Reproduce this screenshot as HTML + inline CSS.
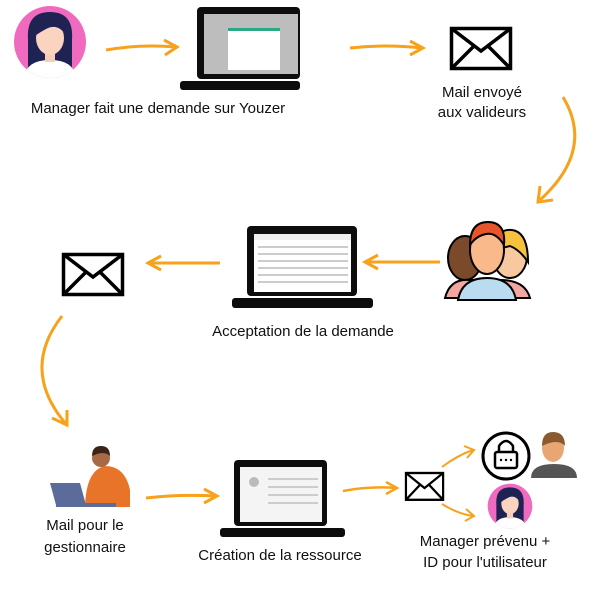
<!DOCTYPE html>
<html><head><meta charset="utf-8"><style>
body{margin:0;background:#fff}
svg text{font-family:"Liberation Sans",sans-serif;fill:#111;font-size:15px}
</style></head><body>
<svg width="600" height="600" viewBox="0 0 600 600" xmlns="http://www.w3.org/2000/svg">
<defs>
<g id="av">
<clipPath id="cc"><circle cx="0" cy="0" r="36"/></clipPath>
<circle r="36" fill="#f06bbf"/>
<g clip-path="url(#cc)">
<path d="M-22 -2 Q-24 -30 0 -30 Q24 -30 22 -2 L22 26 L-22 26Z" fill="#1f2353"/>
<path d="M-26 36 Q-24 18 0 18 Q24 18 26 36Z" fill="#fff"/>
<rect x="-5" y="8" width="10" height="12" fill="#f7cdb7"/>
<ellipse cx="0" cy="-4" rx="14" ry="17" fill="#fad4c0"/>
<path d="M-15 -6 Q-12 -24 2 -22 Q12 -20 15 -8 Q8 -18 -2 -14 Q-10 -10 -15 -6Z" fill="#1f2353"/>
</g>
</g>
<g id="env">
<rect x="1.5" y="1.5" width="59" height="40" fill="#fff" stroke="#000" stroke-width="3.5"/>
<path d="M1.5 1.5 L31 24 L60.5 1.5 M1.5 41.5 L24 19 M60.5 41.5 L38 19" fill="none" stroke="#000" stroke-width="3.5"/>
</g>
</defs>

<!-- row 1 -->
<g transform="translate(50,42)"><use href="#av"/></g>
<g>
<rect x="197" y="7" width="103" height="72" rx="4" fill="#0d0d0d"/>
<rect x="204" y="14" width="94" height="60" fill="#bdbdbd"/>
<rect x="228" y="28" width="52" height="42" fill="#fff"/>
<rect x="228" y="28" width="52" height="3" fill="#2aa884"/>
<rect x="180" y="81" width="120" height="9" rx="3" fill="#0d0d0d"/>
</g>
<path d="M106 50 Q140 44 176 47" stroke="#f7a21b" stroke-width="3" fill="none"/>
<path d="M164 40 L177 47 L165 55" stroke="#f7a21b" stroke-width="3" fill="none"/>
<path d="M350 48 Q385 44 422 48" stroke="#f7a21b" stroke-width="3" fill="none"/>
<path d="M410 41 L423 48 L410 55" stroke="#f7a21b" stroke-width="3" fill="none"/>
<g transform="translate(450,27)"><use href="#env"/></g>
<text x="158" y="113" text-anchor="middle">Manager fait une demande  sur Youzer</text>
<text x="482" y="97" text-anchor="middle">Mail envoyé</text>
<text x="482" y="117" text-anchor="middle">aux valideurs</text>
<path d="M563 97 Q595 150 540 200" stroke="#f7a21b" stroke-width="3" fill="none"/>
<path d="M540 186 L538 202 L553 200" stroke="#f7a21b" stroke-width="3" fill="none"/>

<!-- row 2 -->
<g>
<ellipse cx="465" cy="258" rx="17" ry="22" fill="#7a4a2a" stroke="#000" stroke-width="2"/>
<ellipse cx="510" cy="256" rx="17" ry="22" fill="#f8c9a0" stroke="#000" stroke-width="2"/>
<path d="M494 250 Q496 228 512 230 Q528 232 528 262 Q520 250 510 246Z" fill="#f6c23e" stroke="#000" stroke-width="2"/>
<path d="M445 298 Q450 278 470 280 L500 280 Q525 280 530 298Z" fill="#f4a6a0" stroke="#000" stroke-width="2"/>
<ellipse cx="487" cy="250" rx="17" ry="24" fill="#f9b98b" stroke="#000" stroke-width="2"/>
<path d="M470 245 Q470 222 488 222 Q506 222 504 245 Q496 232 486 234 Q476 236 470 245Z" fill="#e8552a" stroke="#000" stroke-width="2"/>
<path d="M458 300 Q462 278 487 278 Q512 278 516 300Z" fill="#b9dcf0" stroke="#000" stroke-width="2"/>
</g>
<path d="M440 262 L366 262" stroke="#f7a21b" stroke-width="3" fill="none"/>
<path d="M378 255 L365 262 L378 269" stroke="#f7a21b" stroke-width="3" fill="none"/>
<g>
<rect x="247" y="226" width="110" height="70" rx="4" fill="#0d0d0d"/>
<rect x="254" y="234" width="97" height="58" fill="#fff"/>
<rect x="254" y="234" width="97" height="6" fill="#eee"/>
<g fill="#ccc"><rect x="258" y="246" width="90" height="2"/><rect x="258" y="253" width="90" height="2"/><rect x="258" y="260" width="90" height="2"/><rect x="258" y="267" width="90" height="2"/><rect x="258" y="274" width="90" height="2"/><rect x="258" y="281" width="90" height="2"/></g>
<rect x="232" y="298" width="141" height="10" rx="3" fill="#0d0d0d"/>
</g>
<path d="M220 263 L149 263" stroke="#f7a21b" stroke-width="3" fill="none"/>
<path d="M161 256 L148 263 L161 270" stroke="#f7a21b" stroke-width="3" fill="none"/>
<g transform="translate(62,253)"><use href="#env"/></g>
<text x="303" y="336" text-anchor="middle">Acceptation de la demande</text>
<path d="M62 316 Q20 370 66 424" stroke="#f7a21b" stroke-width="3" fill="none"/>
<path d="M52 418 L67 425 L67 410" stroke="#f7a21b" stroke-width="3" fill="none"/>

<!-- row 3 -->
<g>
<path d="M85 507 Q86 470 105 466 Q125 466 130 490 L130 507Z" fill="#e8742a"/>
<circle cx="101" cy="458" r="9" fill="#a86a44"/>
<path d="M92 456 Q92 446 101 446 Q110 446 110 456 Q104 450 92 456Z" fill="#3a2418"/>
<path d="M50 483 L80 483 L86 505 L56 505Z" fill="#5b6c9a"/>
<rect x="56" y="503" width="60" height="4" fill="#5b6c9a"/>
</g>
<path d="M146 498 Q180 494 216 496" stroke="#f7a21b" stroke-width="3" fill="none"/>
<path d="M204 489 L217 496 L204 503" stroke="#f7a21b" stroke-width="3" fill="none"/>
<g>
<rect x="234" y="460" width="93" height="66" rx="4" fill="#0d0d0d"/>
<rect x="240" y="467" width="82" height="55" fill="#f4f4f4"/>
<circle cx="254" cy="482" r="5" fill="#bbb"/>
<g fill="#ccc"><rect x="268" y="478" width="50" height="2"/><rect x="268" y="486" width="50" height="2"/><rect x="268" y="494" width="50" height="2"/><rect x="268" y="502" width="50" height="2"/></g>
<rect x="220" y="528" width="125" height="9" rx="3" fill="#0d0d0d"/>
</g>
<text x="85" y="530" text-anchor="middle">Mail pour le</text>
<text x="85" y="552" text-anchor="middle">gestionnaire</text>
<text x="280" y="560" text-anchor="middle">Création de la ressource</text>
<path d="M343 491 Q370 486 396 488" stroke="#f7a21b" stroke-width="2.5" fill="none"/>
<path d="M386 482 L397 488 L386 494" stroke="#f7a21b" stroke-width="2.5" fill="none"/>
<g transform="translate(405,472) scale(0.63,0.67)"><use href="#env"/></g>
<path d="M442 467 Q458 455 473 450" stroke="#f7a21b" stroke-width="2" fill="none"/>
<path d="M464 446 L474 450 L467 458" stroke="#f7a21b" stroke-width="2" fill="none"/>
<path d="M442 504 Q458 514 473 516" stroke="#f7a21b" stroke-width="2" fill="none"/>
<path d="M466 509 L474 516 L465 521" stroke="#f7a21b" stroke-width="2" fill="none"/>
<circle cx="506" cy="456" r="23" fill="#fff" stroke="#000" stroke-width="3"/>
<rect x="495" y="452" width="22" height="16" rx="2" fill="none" stroke="#000" stroke-width="2.5"/>
<path d="M499 452 L499 446 Q506 436 513 446 L513 452" fill="none" stroke="#000" stroke-width="2.5"/>
<g fill="#000"><circle cx="501" cy="460" r="1.2"/><circle cx="506" cy="460" r="1.2"/><circle cx="511" cy="460" r="1.2"/></g>
<path d="M531 478 Q531 464 554 464 Q577 464 577 478Z" fill="#555"/>
<ellipse cx="553" cy="448" rx="11" ry="14" fill="#e9a674"/>
<path d="M542 446 Q542 432 553 432 Q565 432 565 446 Q558 438 542 446Z" fill="#8a5a2e"/>
<g transform="translate(510,506) scale(0.62)"><use href="#av"/></g>
<text x="485" y="546" text-anchor="middle">Manager prévenu +</text>
<text x="485" y="567" text-anchor="middle">ID pour l'utilisateur</text>
</svg>
</body></html>
